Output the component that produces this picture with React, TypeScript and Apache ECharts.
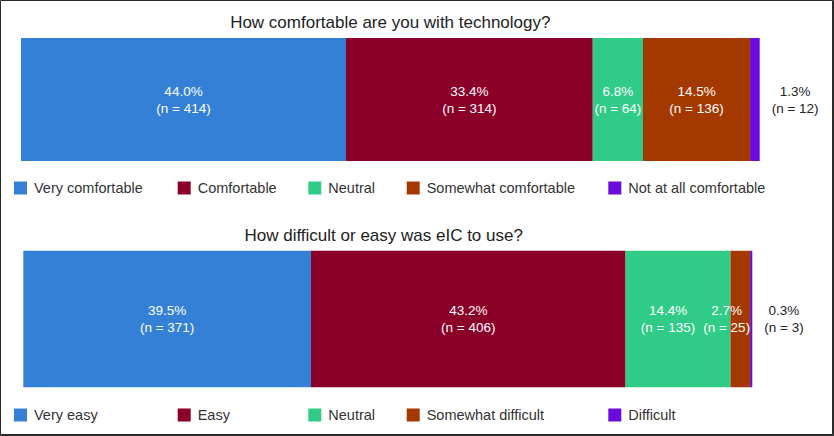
import React, { useEffect, useRef } from "react";
import * as echarts from "echarts";

const CATEGORY = ["response"];

const TOP_TITLE = "How comfortable are you with technology?";
const TOP_NAMES = ["Very comfortable", "Comfortable", "Neutral", "Somewhat comfortable", "Not at all comfortable"];
const TOP_PCT = [44.0, 33.4, 6.8, 14.5, 1.3];
const TOP_N = [414, 314, 64, 136, 12];

const BOTTOM_TITLE = "How difficult or easy was eIC to use?";
const BOTTOM_NAMES = ["Very easy", "Easy", "Neutral", "Somewhat difficult", "Difficult"];
const BOTTOM_PCT = [39.5, 43.2, 14.4, 2.7, 0.3];
const BOTTOM_N = [371, 406, 135, 25, 3];

const COLORS = ["#3480D6", "#8B0029", "#31CB88", "#A33900", "#6A0BDC"];

const FONT = "'Liberation Sans', Arial, Helvetica, sans-serif";
const LEGEND_X = [14, 177.7, 308.3, 406.7, 608.3];

function buildSeries(
  names: string[],
  pct: number[],
  counts: number[],
  idx: number,
  overrides: Record<number, any>
) {
  return names.map((name, i) => {
    const last = i === names.length - 1;
    const color = last ? "#222" : "#fff";
    const item: any = { value: pct[i] };
    if (overrides[i]) item.label = overrides[i];
    return {
      type: "bar",
      name,
      stack: "s" + idx,
      xAxisIndex: idx,
      yAxisIndex: idx,
      barWidth: "100%",
      itemStyle: { color: COLORS[i] },
      emphasis: { disabled: true },
      label: {
        show: true,
        position: last ? "right" : "inside",
        distance: 12,
        formatter: () => `{v|${pct[i].toFixed(1)}%}\n{v|(n = ${counts[i]})}`,
        rich: {
          v: { align: "center", fontSize: 13.5, lineHeight: 17, color, fontFamily: FONT },
        },
      },
      data: [item],
    };
  });
}

export default function App() {
  const ref = useRef<HTMLDivElement>(null);
  useEffect(() => {
    if (!ref.current) return;
    const chart = echarts.init(ref.current, undefined, { renderer: "svg" });
    const sum = (a: number[]) => a.reduce((s, v) => s + v, 0);
    const legends: any[] = [];
    [TOP_NAMES, BOTTOM_NAMES].forEach((names, g) => {
      names.forEach((n, i) => {
        legends.push({
          data: [n],
          left: LEGEND_X[i],
          top: g === 0 ? 180.5 : 407.5,
          padding: 0,
          itemWidth: 13,
          itemHeight: 13,
          icon: "rect",
          selectedMode: false,
          textStyle: { fontSize: 14.5, color: "#333", fontFamily: FONT, padding: [0, 0, 0, 2] },
        });
      });
    });
    chart.setOption({
      animation: false,
      textStyle: { fontFamily: FONT },
      title: [
        {
          text: TOP_TITLE,
          left: 390.3,
          textAlign: "center",
          top: 14,
          padding: 0,
          textStyle: { fontSize: 17, fontWeight: "normal", color: "#222", fontFamily: FONT },
        },
        {
          text: BOTTOM_TITLE,
          left: 383.7,
          textAlign: "center",
          top: 227,
          padding: 0,
          textStyle: { fontSize: 17, fontWeight: "normal", color: "#222", fontFamily: FONT },
        },
      ],
      legend: legends,
      grid: [
        { left: 21, top: 38, width: 738.7, height: 123 },
        { left: 23.3, top: 250.7, width: 729, height: 136.6 },
      ],
      xAxis: [
        { type: "value", gridIndex: 0, min: 0, max: sum(TOP_PCT), show: false },
        { type: "value", gridIndex: 1, min: 0, max: sum(BOTTOM_PCT), show: false },
      ],
      yAxis: [
        { type: "category", gridIndex: 0, data: CATEGORY, show: false },
        { type: "category", gridIndex: 1, data: CATEGORY, show: false },
      ],
      graphic: [
        { type: "rect", shape: { x: 0.5, y: 0.5, width: 832, height: 434 }, style: { fill: "none", stroke: "#2a2a2a", lineWidth: 1 } },
        { type: "line", shape: { x1: 833.5, y1: 0, x2: 833.5, y2: 436 }, style: { stroke: "#2a2a2a", lineWidth: 1 } },
        { type: "line", shape: { x1: 0, y1: 435.5, x2: 834, y2: 435.5 }, style: { stroke: "#2a2a2a", lineWidth: 1 } },
      ],
      series: [
        ...buildSeries(TOP_NAMES, TOP_PCT, TOP_N, 0, {}),
        ...buildSeries(BOTTOM_NAMES, BOTTOM_PCT, BOTTOM_N, 1, {
          2: { offset: [-10, 0] },
          3: { position: "insideRight", distance: 0 },
        }),
      ],
    });
    return () => chart.dispose();
  }, []);
  return (
    <div
      ref={ref}
      style={{ position: "absolute", left: 0, top: 0, width: 834, height: 436, background: "#fff" }}
    />
  );
}
